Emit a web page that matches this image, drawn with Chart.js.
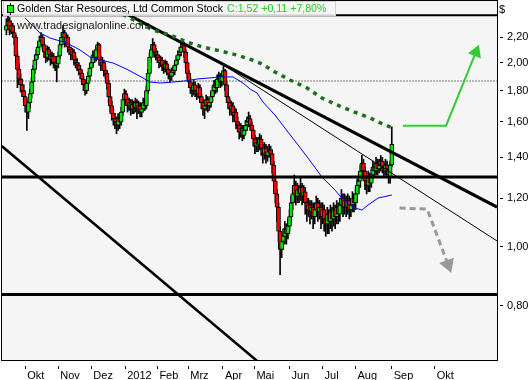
<!DOCTYPE html>
<html>
<head>
<meta charset="utf-8">
<script src="https://cdn.jsdelivr.net/npm/chart.js@4.4.0/dist/chart.umd.min.js"></script>
<style>
  html, body { margin: 0; padding: 0; background: #fff; }
</style>
</head>
<body>
<canvas id="myChart" width="531" height="380"></canvas>
<script>
// month ticks (trading day index) and labels
var monthPos = [12, 33, 54, 75.5, 96, 115.6, 137.7, 157.7, 180, 201, 221.9, 245, 272.3];
var monthLabels = ['Okt', 'Nov', 'Dez', '2012', 'Feb', 'Mrz', 'Apr', 'Mai', 'Jun', 'Jul', 'Aug', 'Sep', 'Okt'];
var priceTicks = [0.8, 1.0, 1.2, 1.4, 1.6, 1.8, 2.0, 2.2];

// daily candles, one value per trading day
var opens = [
  2.26,2.30,2.34,2.26,2.30,2.24,2.20,2.05,1.95,1.88, 1.84,1.80,1.76,1.70,1.66,1.72,1.78,1.86,1.95,2.02,
  2.06,2.12,2.17,2.20,2.14,2.08,2.04,2.10,2.06,2.02, 2.05,2.00,1.98,1.99,2.05,2.14,2.20,2.24,2.16,2.20,
  2.12,2.10,2.06,2.08,2.02,2.00,1.98,1.95,1.92,1.88, 1.84,1.80,1.85,1.90,1.96,2.00,2.06,2.04,2.10,2.14,
  2.02,1.98,2.00,1.94,1.92,1.85,1.76,1.70,1.65,1.62, 1.60,1.58,1.62,1.60,1.66,1.74,1.78,1.74,1.70,1.72,
  1.68,1.71,1.69,1.72,1.68,1.70,1.66,1.68,1.72,1.70, 1.80,1.92,2.04,2.10,2.14,2.08,2.06,2.04,2.00,2.02,
  1.98,1.96,1.99,1.95,1.92,1.90,1.93,1.94,1.98,2.02, 2.06,2.08,2.12,2.14,2.08,2.00,1.92,1.86,1.82,1.80,
  1.84,1.80,1.78,1.82,1.76,1.72,1.68,1.70,1.74,1.70, 1.72,1.76,1.80,1.84,1.82,1.88,1.90,1.86,1.90,1.94,
  1.84,1.76,1.72,1.68,1.70,1.64,1.66,1.60,1.58,1.54, 1.56,1.52,1.55,1.58,1.60,1.62,1.58,1.55,1.50,1.46,
  1.48,1.47,1.50,1.45,1.42,1.45,1.41,1.43,1.44,1.42, 1.36,1.28,1.22,1.16,1.06,0.99,1.02,1.04,1.07,1.05,
  1.08,1.12,1.18,1.22,1.26,1.21,1.24,1.22,1.25,1.21, 1.23,1.18,1.15,1.17,1.14,1.16,1.12,1.15,1.18,1.14,
  1.16,1.12,1.15,1.11,1.09,1.13,1.10,1.14,1.11,1.15, 1.12,1.16,1.13,1.17,1.20,1.16,1.19,1.16,1.19,1.15,
  1.17,1.20,1.18,1.22,1.26,1.28,1.33,1.37,1.33,1.28, 1.26,1.30,1.27,1.31,1.35,1.33,1.37,1.34,1.36,1.38,
  1.35,1.33,1.36,1.34,1.30,1.36
];
var highs = [
  2.36,2.40,2.37,2.34,2.32,2.27,2.22,2.08,1.99,1.92, 1.88,1.84,1.79,1.73,1.75,1.81,1.89,1.98,2.06,2.10,
  2.16,2.21,2.24,2.22,2.16,2.11,2.13,2.12,2.09,2.08, 2.07,2.03,2.02,2.08,2.17,2.24,2.30,2.26,2.23,2.22,
  2.15,2.12,2.11,2.10,2.05,2.03,2.00,1.98,1.94,1.90, 1.87,1.88,1.93,1.99,2.04,2.09,2.09,2.13,2.16,2.15,
  2.05,2.04,2.02,1.97,1.94,1.87,1.78,1.73,1.68,1.65, 1.63,1.65,1.64,1.69,1.77,1.81,1.80,1.76,1.75,1.74,
  1.74,1.73,1.75,1.74,1.73,1.72,1.71,1.75,1.74,1.83, 1.95,2.07,2.14,2.19,2.16,2.11,2.09,2.06,2.05,2.04,
  2.01,2.02,2.01,1.97,1.94,1.96,1.97,2.01,2.05,2.09, 2.12,2.15,2.18,2.16,2.10,2.02,1.94,1.89,1.85,1.87,
  1.86,1.83,1.85,1.84,1.78,1.74,1.73,1.77,1.76,1.75, 1.79,1.83,1.87,1.86,1.91,1.93,1.92,1.93,1.98,1.95,
  1.86,1.78,1.74,1.73,1.72,1.69,1.68,1.63,1.60,1.59, 1.58,1.58,1.61,1.63,1.66,1.64,1.60,1.57,1.52,1.51,
  1.51,1.53,1.52,1.47,1.48,1.47,1.46,1.47,1.46,1.44, 1.38,1.30,1.24,1.18,1.08,1.05,1.07,1.10,1.09,1.11,
  1.15,1.21,1.25,1.31,1.28,1.27,1.26,1.30,1.27,1.26, 1.25,1.20,1.20,1.19,1.19,1.18,1.18,1.21,1.20,1.19,
  1.18,1.18,1.17,1.13,1.16,1.15,1.17,1.16,1.18,1.17, 1.19,1.18,1.20,1.24,1.22,1.22,1.21,1.22,1.21,1.20,
  1.23,1.22,1.25,1.29,1.32,1.36,1.41,1.39,1.35,1.30, 1.33,1.32,1.34,1.38,1.37,1.40,1.39,1.39,1.41,1.40,
  1.37,1.39,1.38,1.36,1.38,1.57
];
var lows = [
  2.22,2.27,2.22,2.23,2.20,2.14,2.00,1.82,1.84,1.79, 1.76,1.72,1.66,1.55,1.62,1.69,1.75,1.83,1.92,1.98,
  2.03,2.09,2.13,2.10,2.04,2.00,2.01,2.02,1.98,1.99, 1.96,1.94,1.86,1.96,2.03,2.11,2.17,2.12,2.13,2.08,
  2.06,2.02,2.03,1.98,1.96,1.94,1.91,1.88,1.84,1.80, 1.77,1.78,1.83,1.87,1.93,1.97,2.00,2.01,2.06,1.98,
  1.94,1.95,1.90,1.88,1.81,1.72,1.66,1.61,1.58,1.56, 1.53,1.55,1.56,1.58,1.64,1.71,1.70,1.66,1.67,1.64,
  1.65,1.65,1.66,1.62,1.65,1.63,1.63,1.66,1.67,1.68, 1.78,1.90,2.01,2.06,2.04,2.02,2.00,1.96,1.97,1.94,
  1.92,1.93,1.91,1.88,1.86,1.87,1.90,1.91,1.95,1.99, 2.03,2.05,2.09,2.04,1.96,1.88,1.82,1.78,1.76,1.77,
  1.76,1.74,1.75,1.72,1.68,1.64,1.62,1.67,1.66,1.67, 1.69,1.73,1.77,1.78,1.79,1.85,1.82,1.83,1.87,1.80,
  1.72,1.68,1.64,1.65,1.60,1.61,1.56,1.54,1.50,1.51, 1.49,1.50,1.53,1.55,1.57,1.55,1.51,1.46,1.42,1.43,
  1.43,1.44,1.41,1.37,1.39,1.37,1.38,1.40,1.38,1.32, 1.25,1.18,1.10,1.02,0.90,0.96,0.99,1.01,1.01,1.03,
  1.06,1.10,1.15,1.19,1.17,1.18,1.18,1.19,1.17,1.18, 1.13,1.10,1.12,1.09,1.11,1.07,1.09,1.13,1.10,1.11,
  1.07,1.09,1.06,1.04,1.05,1.05,1.07,1.06,1.08,1.07, 1.09,1.09,1.10,1.14,1.12,1.13,1.12,1.13,1.11,1.12,
  1.14,1.14,1.15,1.19,1.22,1.25,1.30,1.29,1.24,1.22, 1.23,1.23,1.25,1.29,1.30,1.31,1.31,1.32,1.33,1.32,
  1.30,1.31,1.30,1.27,1.27,1.35
];
var closes = [
  2.30,2.34,2.26,2.30,2.24,2.20,2.05,1.95,1.88,1.84, 1.80,1.76,1.70,1.66,1.72,1.78,1.86,1.95,2.02,2.06,
  2.12,2.17,2.20,2.14,2.08,2.04,2.10,2.06,2.02,2.05, 2.00,1.98,1.99,2.05,2.14,2.20,2.24,2.16,2.20,2.12,
  2.10,2.06,2.08,2.02,2.00,1.98,1.95,1.92,1.88,1.84, 1.80,1.85,1.90,1.96,2.00,2.06,2.04,2.10,2.14,2.02,
  1.98,2.00,1.94,1.92,1.85,1.76,1.70,1.65,1.62,1.60, 1.58,1.62,1.60,1.66,1.74,1.78,1.74,1.70,1.72,1.68,
  1.71,1.69,1.72,1.68,1.70,1.66,1.68,1.72,1.70,1.80, 1.92,2.04,2.10,2.14,2.08,2.06,2.04,2.00,2.02,1.98,
  1.96,1.99,1.95,1.92,1.90,1.93,1.94,1.98,2.02,2.06, 2.08,2.12,2.14,2.08,2.00,1.92,1.86,1.82,1.80,1.84,
  1.80,1.78,1.82,1.76,1.72,1.68,1.70,1.74,1.70,1.72, 1.76,1.80,1.84,1.82,1.88,1.90,1.86,1.90,1.94,1.84,
  1.76,1.72,1.68,1.70,1.64,1.66,1.60,1.58,1.54,1.56, 1.52,1.55,1.58,1.60,1.62,1.58,1.55,1.50,1.46,1.48,
  1.47,1.50,1.45,1.42,1.45,1.41,1.43,1.44,1.42,1.36, 1.28,1.22,1.16,1.06,0.99,1.02,1.04,1.07,1.05,1.08,
  1.12,1.18,1.22,1.26,1.21,1.24,1.22,1.25,1.21,1.23, 1.18,1.15,1.17,1.14,1.16,1.12,1.15,1.18,1.14,1.16,
  1.12,1.15,1.11,1.09,1.13,1.10,1.14,1.11,1.15,1.12, 1.16,1.13,1.17,1.20,1.16,1.19,1.16,1.19,1.15,1.17,
  1.20,1.18,1.22,1.26,1.28,1.33,1.37,1.33,1.28,1.26, 1.30,1.27,1.31,1.35,1.33,1.37,1.34,1.36,1.38,1.35,
  1.33,1.36,1.34,1.30,1.36,1.47
];

// moving average (blue)
var maX = [11.8, 21.4, 27.7, 38.5, 46.8, 53.1, 59.5, 67.8, 76.7, 86.8, 91.3, 98, 105.9, 113, 121.2, 129.4,
  135.8, 144.1, 150.4, 155, 159.3, 163.1, 170.7, 179, 185.4, 191.7, 200.6, 208.9, 215.3, 221.6, 226.1,
  229.9, 236.3, 245];
var maY = [2.366, 2.236, 2.194, 2.153, 2.097, 2.043, 2.020, 1.997, 1.950, 1.888, 1.859, 1.852, 1.859, 1.866,
  1.880, 1.888, 1.895, 1.895, 1.852, 1.810, 1.784, 1.724, 1.642, 1.540, 1.467, 1.397, 1.300, 1.238, 1.183,
  1.157, 1.148, 1.170, 1.201, 1.215];

// drawn trend lines
var trendAX = [69.0, 311.9], trendAY = [2.457, 1.161];
var trendBX = [137.1, 311.9], trendBY = [1.990, 1.022];
var trendCX = [-3, 167.6], trendCY = [1.461, 0.6244];
var levels = [2.39, 1.30, 0.835];
var dottedLevel = 1.866;
var resistX = [69.0, 77.3, 93.2, 104.0, 114.8, 125.0, 135.8, 146.6, 156.1, 161.2, 170.7, 180.3, 191.1,
  200.6, 210.2, 220.3, 231.1, 240.7, 245.8];
var resistY = [2.436, 2.375, 2.261, 2.219, 2.160, 2.120, 2.090, 2.058, 2.020, 1.997, 1.931, 1.873, 1.818,
  1.750, 1.705, 1.664, 1.624, 1.581, 1.564];
var upArrowX = [252.1, 279.5, 298.5], upArrowY = [1.577, 1.577, 2.08];
var downArrowX = [250, 267.5, 280.8], downArrowY = [1.157, 1.152, 0.935];

function pts(xs, ys) {
  return xs.map(function (x, i) { return { x: x, y: ys[i] }; });
}
function level(v) {
  return [{ x: -5, y: v }, { x: 315, y: v }];
}

var wickData = closes.map(function (c, i) { return { x: i, y: [lows[i], highs[i]] }; });
var bodyData = closes.map(function (c, i) { return { x: i, y: [opens[i], c] }; });
var bodyColors = closes.map(function (c, i) { return c >= opens[i] ? '#00e600' : '#ff0000'; });

var FONT = 'Liberation Sans';

function noPad(s) {
  s.paddingLeft = 0; s.paddingRight = 0; s.paddingTop = 0; s.paddingBottom = 0;
}

var decor = {
  id: 'decor',
  beforeDraw: function (chart) {
    var a = chart.chartArea, c = chart.ctx;
    c.save();
    c.fillStyle = '#f5f5f5';
    c.fillRect(a.left, a.top, a.right - a.left, a.bottom - a.top);
    c.restore();
  },
  afterDraw: function (chart) {
    var a = chart.chartArea, c = chart.ctx;
    c.save();
    // frame
    c.strokeStyle = '#000';
    c.lineWidth = 1;
    c.strokeRect(a.left - 0.5, a.top - 0.5, a.right - a.left + 1, a.bottom - a.top + 1);
    // watermark
    c.font = '11px "' + FONT + '"';
    c.textBaseline = 'middle';
    c.fillStyle = '#1a1a1a';
    c.fillText('www.tradesignalonline.com', 17, 26);
    // title box
    c.fillStyle = 'rgba(246,246,246,0.88)';
    c.fillRect(3, 1, 333, 15);
    c.strokeStyle = '#d0d0d0';
    c.strokeRect(3.5, 1.5, 332, 14);
    c.strokeStyle = '#000';
    c.beginPath(); c.moveTo(10.5, 3); c.lineTo(10.5, 15); c.stroke();
    c.fillStyle = '#00ff00';
    c.fillRect(7.5, 5.5, 6, 7);
    c.strokeRect(7.5, 5.5, 6, 7);
    c.font = '10.6px "' + FONT + '"';
    c.fillStyle = '#000';
    var t = 'Golden Star Resources, Ltd Common Stock';
    c.fillText(t, 17, 9.5);
    c.fillStyle = '#22cc22';
    c.fillText('C:1,52 +0,11 +7,80%', 17 + c.measureText(t).width + 4, 9.5);
    // currency
    c.font = '11px "' + FONT + '"';
    c.fillStyle = '#000';
    c.fillText('$', 499, 10);
    c.restore();
  }
};

var lineBase = { type: 'line', pointRadius: 0, fill: false, tension: 0, borderCapStyle: 'butt' };
function lineSet(data, extra) {
  return Object.assign({}, lineBase, { data: data }, extra);
}

new Chart(document.getElementById('myChart').getContext('2d'), {
  type: 'bar',
  data: {
    datasets: [
      lineSet(pts(upArrowX, upArrowY), { borderColor: '#33cc33', borderWidth: 2, order: 0,
        pointRadius: [0, 0, 6], pointStyle: 'triangle', pointRotation: 22,
        pointBackgroundColor: '#33cc33', pointBorderColor: '#33cc33' }),
      lineSet(pts(downArrowX, downArrowY), { borderColor: '#999999', borderWidth: 3, borderDash: [6, 4], order: 0,
        pointRadius: [0, 0, 6], pointStyle: 'triangle', pointRotation: 160,
        pointBackgroundColor: '#999999', pointBorderColor: '#999999' }),
      lineSet(pts(resistX, resistY), { borderColor: '#1c6e1c', borderWidth: 3.5, borderDash: [4, 5], order: 1 }),
      lineSet(pts(trendAX, trendAY), { borderColor: '#000', borderWidth: 3, order: 2 }),
      lineSet(pts(trendBX, trendBY), { borderColor: '#000', borderWidth: 1, order: 2 }),
      lineSet(pts(trendCX, trendCY), { borderColor: '#000', borderWidth: 2.5, order: 2 }),
      lineSet(level(levels[0]), { borderColor: '#000', borderWidth: 2, order: 2 }),
      lineSet(level(levels[1]), { borderColor: '#000', borderWidth: 3, order: 2 }),
      lineSet(level(levels[2]), { borderColor: '#000', borderWidth: 3, order: 2 }),
      lineSet(level(dottedLevel), { borderColor: '#000', borderWidth: 1, borderDash: [1, 2], order: 2 }),
      lineSet(pts(maX, maY), { borderColor: '#0000ff', borderWidth: 1, order: 3 }),
      { type: 'bar', data: bodyData, backgroundColor: bodyColors, borderColor: '#000', borderWidth: 1,
        borderSkipped: false, barThickness: 4, grouped: false, order: 4 },
      { type: 'bar', data: wickData, backgroundColor: '#000', borderWidth: 0,
        barThickness: 1, grouped: false, order: 5 }
    ]
  },
  options: {
    responsive: false,
    animation: false,
    events: [],
    layout: { autoPadding: false, padding: { left: 2, top: 1, right: 0, bottom: 0 } },
    plugins: { legend: { display: false }, tooltip: { enabled: false } },
    scales: {
      x: {
        type: 'linear', min: -2.8, max: 311.9, offset: false,
        afterBuildTicks: function (s) { s.ticks = monthPos.map(function (v) { return { value: v }; }); },
        afterFit: function (s) { s.height = 20; noPad(s); },
        border: { display: false },
        grid: { drawOnChartArea: false, offset: false, tickLength: 9, tickColor: '#000',
          tickBorderDash: [3, 6], tickBorderDashOffset: 3 },
        ticks: { autoSkip: false, maxRotation: 0, align: 'start', labelOffset: 2, padding: 0,
          color: '#000', font: { family: FONT, size: 11 },
          callback: function (v, idx) { return monthLabels[idx]; } }
      },
      y: {
        type: 'logarithmic', position: 'right', min: 0.6528, max: 2.522,
        afterBuildTicks: function (s) { s.ticks = priceTicks.map(function (v) { return { value: v }; }); },
        afterFit: function (s) { s.width = 34; noPad(s); },
        border: { display: false },
        grid: { drawOnChartArea: false, tickLength: 6, tickColor: '#000',
          tickBorderDash: [3, 3], tickBorderDashOffset: 3 },
        ticks: { padding: 4, color: '#000', font: { family: FONT, size: 11 },
          callback: function (v) { return Number(v).toFixed(2).replace('.', ','); } }
      }
    }
  },
  plugins: [decor]
});
</script>
</body>
</html>
